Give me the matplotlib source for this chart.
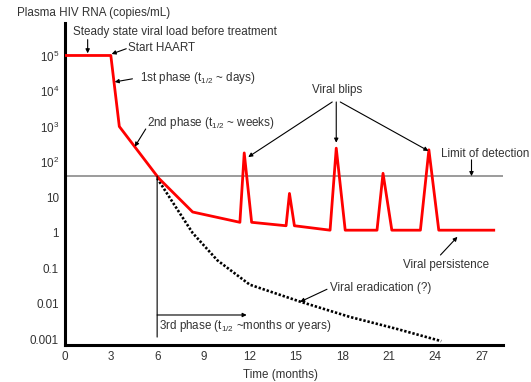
"""
plot.py
Plasma HIV RNA decay under HAART: phases, blips and persistence
"""

import matplotlib
matplotlib.use("Agg")
import matplotlib.pyplot as plt

# Data
# viral load under treatment (red line)
treat_months = [0, 3.0, 3.55, 6.1, 8.3, 11.36, 11.64, 12.12, 14.35, 14.57, 14.89,
                17.2, 17.6, 18.18, 20.24, 20.63, 21.2, 23.05, 23.6, 24.24, 27.8]
treat_load = [1e5, 1e5, 1000, 35, 3.9, 2.0, 180, 2.0, 1.6, 13, 1.6,
              1.2, 245, 1.2, 1.2, 48, 1.2, 1.2, 220, 1.2, 1.2]

# hypothetical eradication curve (black dotted)
erad_months = [6.0, 7.0, 8.3, 9.9, 12.0, 15.3, 18.5, 21.5, 24.4]
erad_load = [35, 7.4, 1.0, 0.17, 0.035, 0.0115, 0.0043, 0.002, 0.0009]

detection_limit = 40

x_ticks = [0, 3, 6, 9, 12, 15, 18, 21, 24, 27]
y_ticks = [1e5, 1e4, 1e3, 1e2, 10, 1, 0.1, 0.01, 0.001]
y_tick_labels = ["$10^5$", "$10^4$", "$10^3$", "$10^2$", "10", "1", "0.1", "0.01", "0.001"]

TEXT_COLOR = "#333333"
FS = 8.4

plt.rcParams["font.family"] = ["Liberation Sans", "DejaVu Sans"]
plt.rcParams["mathtext.fontset"] = "custom"
plt.rcParams["mathtext.rm"] = "Liberation Sans"
plt.rcParams["mathtext.it"] = "Liberation Sans"
plt.rcParams["font.size"] = FS

fig = plt.figure(figsize=(5.31, 3.82), dpi=100)
ax = fig.add_axes([64.5 / 531, 1 - 345 / 382, (503 - 64.5) / 531, (345 - 23) / 382])

ax.set_yscale("log")
ax.set_xlim(0, 28.4)
ax.set_ylim(10 ** -3.155, 10 ** 5.915)

# limit of detection
ax.axhline(detection_limit, color="#808080", lw=1.1, zorder=1)

# curves
ax.plot(treat_months, treat_load, color="#ff0000", lw=2.0, zorder=3)
ax.plot(erad_months, erad_load, color="black", lw=1.9, ls=(0, (0.9, 0.7)), zorder=2)

# axes styling
for side in ["top", "right"]:
    ax.spines[side].set_visible(False)
for side in ["left", "bottom"]:
    ax.spines[side].set_linewidth(2.2)
ax.set_xticks(x_ticks)
ax.set_xticklabels([str(t) for t in x_ticks])
ax.set_yticks(y_ticks)
ax.set_yticklabels(y_tick_labels)
ax.minorticks_off()
ax.tick_params(length=0, pad=4, colors=TEXT_COLOR, labelsize=FS)

arrow = dict(arrowstyle="-|>", color="black", lw=0.8, mutation_scale=6, shrinkA=0, shrinkB=0)
line = dict(arrowstyle="-", color="black", lw=0.8, shrinkA=0, shrinkB=0)

# y-axis title
fig.text(17 / 531, 1 - 13 / 382, "Plasma HIV RNA (copies/mL)", ha="left", va="center",
         color=TEXT_COLOR, fontsize=FS)

# steady state
ax.text(0.52, 4.6e5, "Steady state viral load before treatment", ha="left", va="center",
        color=TEXT_COLOR)
ax.annotate("", xy=(1.5, 1.15e5), xytext=(1.5, 2.8e5), arrowprops=arrow)

# start HAART
ax.text(4.1, 1.6e5, "Start HAART", ha="left", va="center", color=TEXT_COLOR)
ax.annotate("", xy=(3.05, 1.1e5), xytext=(4.0, 1.55e5), arrowprops=arrow)

# 1st phase
ax.text(4.87, 2.3e4, "1st phase (t$_{1/2}$ ~ days)", ha="left", va="center", color=TEXT_COLOR)
ax.annotate("", xy=(3.25, 1.8e4), xytext=(4.4, 2.2e4), arrowprops=arrow)

# 2nd phase
ax.text(5.32, 1.26e3, "2nd phase (t$_{1/2}$ ~ weeks)", ha="left", va="center", color=TEXT_COLOR)
ax.annotate("", xy=(4.55, 270), xytext=(5.26, 850), arrowprops=arrow)

# viral blips
ax.text(17.66, 1.07e4, "Viral blips", ha="center", va="center", color=TEXT_COLOR)
ax.annotate("", xy=(11.9, 138), xytext=(17.34, 4.9e3), arrowprops=arrow)
ax.annotate("", xy=(17.6, 350), xytext=(17.6, 4.9e3), arrowprops=arrow)
ax.annotate("", xy=(23.57, 205), xytext=(17.86, 4.9e3), arrowprops=arrow)

# limit of detection (kept inside the figure's right edge)
fig.text(529 / 531, 1 - 154 / 382, "Limit of detection", ha="right", va="center",
         color=TEXT_COLOR, fontsize=FS)
ax.annotate("", xy=(26.36, detection_limit), xytext=(26.36, 115), arrowprops=arrow)

# viral persistence
ax.text(21.9, 0.126, "Viral persistence", ha="left", va="center", color=TEXT_COLOR)
ax.annotate("", xy=(25.45, 0.78), xytext=(24.35, 0.24), arrowprops=arrow)

# viral eradication
ax.text(17.2, 0.028, "Viral eradication (?)", ha="left", va="center", color=TEXT_COLOR)
ax.annotate("", xy=(15.26, 0.0115), xytext=(17.0, 0.026), arrowprops=arrow)

# 3rd phase
ax.annotate("", xy=(6.0, 0.00117), xytext=(6.0, detection_limit), arrowprops=line)
ax.annotate("", xy=(11.8, 0.0049), xytext=(6.0, 0.0049), arrowprops=arrow)
ax.text(6.1, 0.0024, "3rd phase (t$_{1/2}$ ~months or years)", ha="left", va="center",
        color=TEXT_COLOR)

fig.text(280 / 531, 1 - 375 / 382, "Time (months)", ha="center", va="center",
         color=TEXT_COLOR, fontsize=FS)

fig.savefig("out.png", dpi=100)
